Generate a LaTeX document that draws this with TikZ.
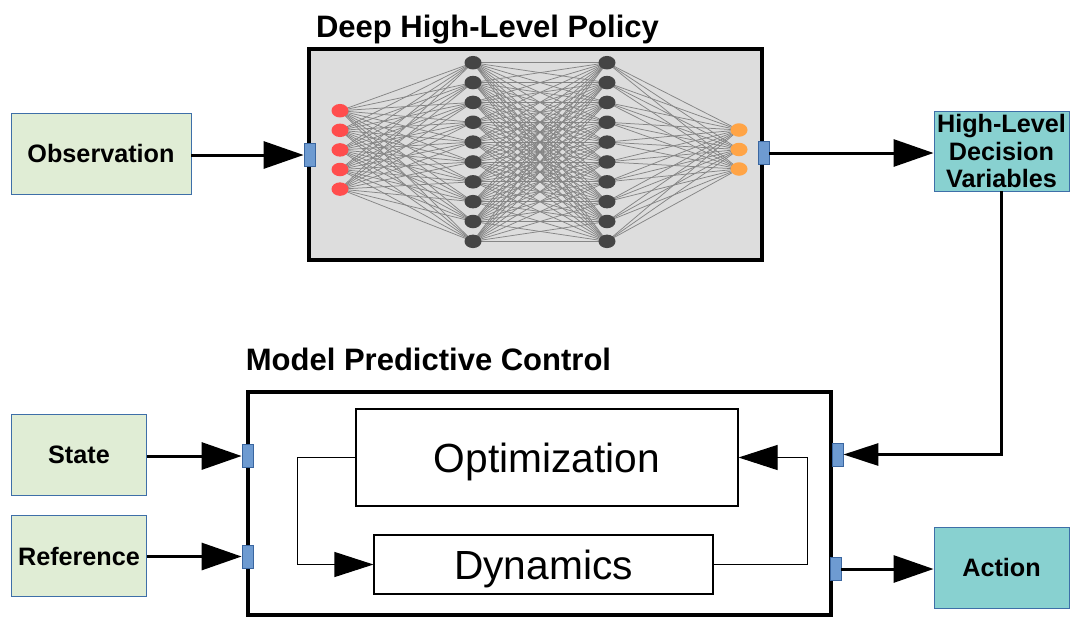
\documentclass[tikz,border=0pt]{standalone}
\usepackage{fontspec}
\setmainfont{Liberation Sans}
\usetikzlibrary{arrows.meta,shapes.geometric}
\definecolor{boxgreen}{HTML}{E0EDD5}
\definecolor{boxteal}{HTML}{88D1D0}
\definecolor{boxedge}{HTML}{3E6FA8}
\definecolor{portfill}{HTML}{6E9BD1}
\definecolor{portedge}{HTML}{3A66A0}
\definecolor{nnbg}{HTML}{DDDDDD}
\definecolor{nnred}{HTML}{FF4D4D}
\definecolor{nnorange}{HTML}{FFA446}
\definecolor{nndark}{HTML}{454545}
\definecolor{nnedge}{HTML}{858585}
\begin{document}
\begin{tikzpicture}[x=1pt,y=-1pt,
  lbl/.style={font=\bfseries\fontsize{25.2}{27.5}\selectfont},
  ttl/.style={font=\bfseries\fontsize{31}{37}\selectfont,inner sep=0pt,anchor=base},
  greenbox/.style={draw=boxedge,line width=0.9pt,fill=boxgreen,minimum width=135pt,minimum height=81pt,inner sep=0pt,lbl},
  tealbox/.style={draw=boxedge,line width=0.9pt,fill=boxteal,minimum width=135pt,minimum height=81pt,inner sep=0pt,lbl,align=center},
  bigbox/.style={draw=black,line width=4pt,inner sep=0pt},
  innerbox/.style={draw=black,line width=1.1pt,fill=white,inner sep=0pt,text depth=0pt,font=\fontsize{40.7}{48}\selectfont},
  port/.style={draw=portedge,line width=0.8pt,fill=portfill,minimum width=11pt,minimum height=23pt,inner sep=0pt},
  arr/.style={line width=3pt,-{Triangle[length=40pt,width=27pt]}},
  arrmid/.style={line width=3pt,-{Triangle[length=35pt,width=22pt]}},
  looparr/.style={line width=1.1pt,-{Triangle[length=39pt,width=25pt]}},
  nnline/.style={draw=nnedge,line width=0.75pt},
  neuron/.style={ellipse,minimum width=17pt,minimum height=13.5pt,inner sep=0pt,draw=none}
]
\useasboundingbox (0,0) rectangle (1080,630);

% titles
\node[ttl] (ttl1) at (487.5,37) {Deep High-Level Policy};
\node[ttl] (ttl2) at (428.5,370) {Model Predictive Control};

% neural network box
\node[bigbox,fill=nnbg,minimum width=453pt,minimum height=211pt] (nnbox) at (535.5,154.5) {};

\foreach \i in {1,...,5} \coordinate (a\i) at (340,{110.7+19.6*(\i-1)});
\foreach \j in {1,...,10} {
  \coordinate (b\j) at (473,{62.7+19.85*(\j-1)});
  \coordinate (c\j) at (607,{62.7+19.85*(\j-1)});
}
\foreach \k in {1,2,3} \coordinate (d\k) at (739,{130+19.5*(\k-1)});

\foreach \i in {1,...,5} \foreach \j in {1,...,10} \draw[nnline] (a\i) -- (b\j);
\foreach \i in {1,...,10} \foreach \j in {1,...,10} \draw[nnline] (b\i) -- (c\j);
\foreach \i in {1,...,10} \foreach \k in {1,2,3} \draw[nnline] (c\i) -- (d\k);

\foreach \i in {1,...,5} \node[neuron,fill=nnred] (na\i) at (a\i) {};
\foreach \j in {1,...,10} {
  \node[neuron,fill=nndark] (nb\j) at (b\j) {};
  \node[neuron,fill=nndark] (nc\j) at (c\j) {};
}
\foreach \k in {1,2,3} \node[neuron,fill=nnorange] (nd\k) at (d\k) {};

% MPC box
\node[bigbox,fill=white,minimum width=583pt,minimum height=223pt] (mpc) at (539.5,503.5) {};
\node[innerbox,minimum width=382pt,minimum height=97pt] (opt) at (547,457.5) {Optimization};
\node[innerbox,minimum width=339pt,minimum height=59pt] (dyn) at (543.5,564.5) {Dynamics};

% outer boxes
\node[greenbox,minimum width=180pt] (obs) at (101,153.5) {Observation};
\node[greenbox] (state) at (79,454.5) {State};
\node[greenbox] (ref) at (79,556) {Reference};
\node[tealbox,minimum height=80pt] (hldv) at (1001.5,151) {High-Level\\Decision\\Variables};
\node[tealbox] (action) at (1001.5,567.5) {Action};

% ports
\node[port] (pin) at (309.5,155) {};
\node[port] (pout) at (763.5,153) {};
\node[port] (pS) at (247.5,456) {};
\node[port] (pR) at (247.5,556.5) {};
\node[port] (pH) at (837.5,454.5) {};
\node[port] (pA) at (835.5,569) {};

% connectors
\draw[arr] (obs.east |- pin) -- (pin.west);
\draw[arr] (pout.east) -- (hldv.west |- pout);
\draw[arrmid] (hldv.south) |- (pH.east);
\draw[arr] (state.east |- pS) -- (pS.west);
\draw[arr] (ref.east |- pR) -- (pR.west);
\draw[arr] (pA.east) -- (action.west |- pA);

% MPC internal loop
\draw[looparr] (opt.west) -- ++(-58,0) |- (dyn.west);
\draw[looparr] (dyn.east) -- ++(94,0) |- (opt.east);
\end{tikzpicture}
\end{document}
